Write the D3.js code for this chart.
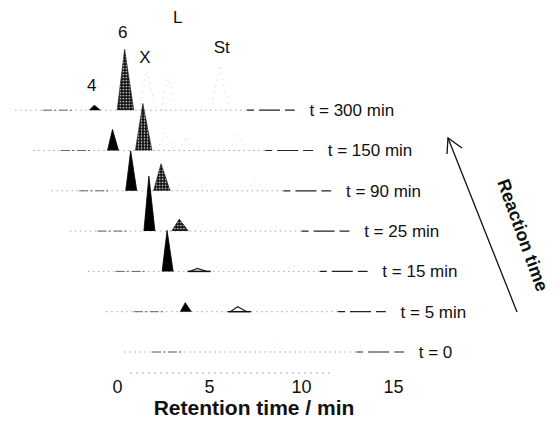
<!DOCTYPE html>
<html>
<head>
<meta charset="utf-8">
<script src="https://d3js.org/d3.v7.min.js"></script>
<style>
  body { margin: 0; background: #fff; }
  text { font-family: "Liberation Sans", Arial, sans-serif; fill: #111; }
</style>
</head>
<body>
<svg id="chart"></svg>
<script>
// chromatogram series, front (t = 0) to back (t = 300 min)
var traceLabels = ["t = 0", "t = 5 min", "t = 15 min", "t = 25 min", "t = 90 min", "t = 150 min", "t = 300 min"];
var peakNames = ["4", "6", "X", "L", "St"];
var peakRT = [4.7, 6.35, 7.55, 8.7, 11.5];      // min, on the front axis
var peakWidth = [0.6, 0.9, 0.9, 0.8, 1.0];      // min, at base
var peak4 = [0, 9, 41, 55, 40, 21, 5];
var peak6 = [0, 0, 3, 12, 27, 47, 61];
var peakX = [0, 5, 8, 8, 12, 18, 40];
var peakL = [9, 0, 0, 5, 8, 14, 35];
var peakSt = [0, 0, 6, 6, 10, 16, 45];
var xTicks = [0, 5, 10, 15];
// label positions above the back trace (rt in min, height above its baseline)
var nameRT = [4.56, 6.25, 7.45, 9.24, 11.63];
var nameH = [25, 78, 53, 93, 63];

var W = 556, H = 425;
var svg = d3.select("#chart").attr("width", W).attr("height", H);

// stippled fill for peak 6
var defs = svg.append("defs");
var pat = defs.append("pattern").attr("id", "stip")
    .attr("width", 3).attr("height", 3).attr("patternUnits", "userSpaceOnUse");
pat.append("rect").attr("width", 3).attr("height", 3).attr("fill", "#111");
pat.append("circle").attr("cx", 1.5).attr("cy", 1.5).attr("r", 0.8).attr("fill", "#fff");

var x = d3.scaleLinear().domain([0, 15]).range([117, 393]);
var y = d3.scaleLinear().domain([0, 100]).range([352, 252]);
var stepX = -18.2, stepY = -40.3;

var heights = [peak4, peak6, peakX, peakL, peakSt];
var line = d3.line().x(function(d) { return x(d[0]); }).y(function(d) { return y(d[1]); });

// faint axis line
svg.append("line")
    .attr("x1", x(0.7)).attr("x2", x(11.6))
    .attr("y1", 373).attr("y2", 373)
    .attr("stroke", "#aaa").attr("stroke-width", 1).attr("stroke-dasharray", "2,4");

// back traces first
d3.range(traceLabels.length - 1, -1, -1).forEach(function(i) {
  var g = svg.append("g").attr("transform", "translate(" + (stepX * i) + "," + (stepY * i) + ")");

  // baseline pieces
  g.append("path").attr("d", line([[0.4, 0], [13.0, 0]]))
      .attr("stroke", "#aaa").attr("stroke-width", 1).attr("stroke-dasharray", "1.5,3.5").attr("fill", "none");
  g.append("path").attr("d", line([[1.9, 0], [3.6, 0]]))
      .attr("stroke", "#666").attr("stroke-width", 1).attr("stroke-dasharray", "9,2,2,3").attr("fill", "none");
  g.append("path").attr("d", line([[13.0, 0], [15.6, 0]]))
      .attr("stroke", "#222").attr("stroke-width", 1.2).attr("stroke-dasharray", "7,5,14,0").attr("fill", "none");

  heights.forEach(function(hs, k) {
    var h = hs[i];
    if (!h) return;
    var rt = peakRT[k], w = peakWidth[k];
    var pts = [[rt - w * 0.45, 0], [rt, h], [rt + w * 0.55, 0]];
    var p = g.append("path").attr("d", line(pts));
    if (k === 0) {
      p.attr("fill", "#000").attr("stroke", "#000").attr("stroke-width", 0.8);
    } else if (k === 1 && h > 6) {
      p.attr("fill", "url(#stip)").attr("stroke", "#111").attr("stroke-width", 0.6);
    } else if ((k === 1) || (k === 2 && i === 1)) {
      p.attr("fill", "none").attr("stroke", "#222").attr("stroke-width", 1.2);
      g.append("path").attr("d", line([[rt - w * 0.6, 0], [rt + w * 0.8, 0]]))
          .attr("stroke", "#111").attr("stroke-width", 1.5);
    } else {
      p.attr("fill", "none").attr("stroke", "#d0d0d0").attr("stroke-width", 1).attr("stroke-dasharray", "1,5");
    }
  });

  g.append("text")
      .attr("x", x(16.4)).attr("y", y(0))
      .attr("dy", "0.35em")
      .attr("font-size", 17)
      .text(traceLabels[i]);
});

// peak names above back trace
var back = traceLabels.length - 1;
peakNames.forEach(function(n, k) {
  svg.append("text")
      .attr("x", x(nameRT[k]) + stepX * back)
      .attr("y", y(nameH[k]) + stepY * back)
      .attr("dy", "0.35em")
      .attr("text-anchor", "middle")
      .attr("font-size", 17)
      .text(n);
});

// axis
var ax = svg.append("g").attr("transform", "translate(0,373)")
    .call(d3.axisBottom(x).tickValues(xTicks).tickSize(0).tickPadding(7));
ax.select(".domain").remove();
ax.selectAll("text").attr("font-size", 18).style("font-family", "Liberation Sans, Arial, sans-serif").attr("fill", "#111");

svg.append("text")
    .attr("x", 254).attr("y", 415)
    .attr("text-anchor", "middle")
    .attr("font-size", 21).attr("font-weight", "bold")
    .text("Retention time / min");

// reaction time arrow
svg.append("line").attr("x1", 517).attr("y1", 312).attr("x2", 448).attr("y2", 138)
    .attr("stroke", "#111").attr("stroke-width", 1.3);
svg.append("path").attr("d", "M447,154 L448,138 L462,148")
    .attr("fill", "none").attr("stroke", "#111").attr("stroke-width", 1.3);

svg.append("text")
    .attr("transform", "translate(523,235) rotate(70)")
    .attr("text-anchor", "middle").attr("dy", "0.35em")
    .attr("font-size", 18).attr("font-weight", "bold")
    .text("Reaction time");
</script>
</body>
</html>
